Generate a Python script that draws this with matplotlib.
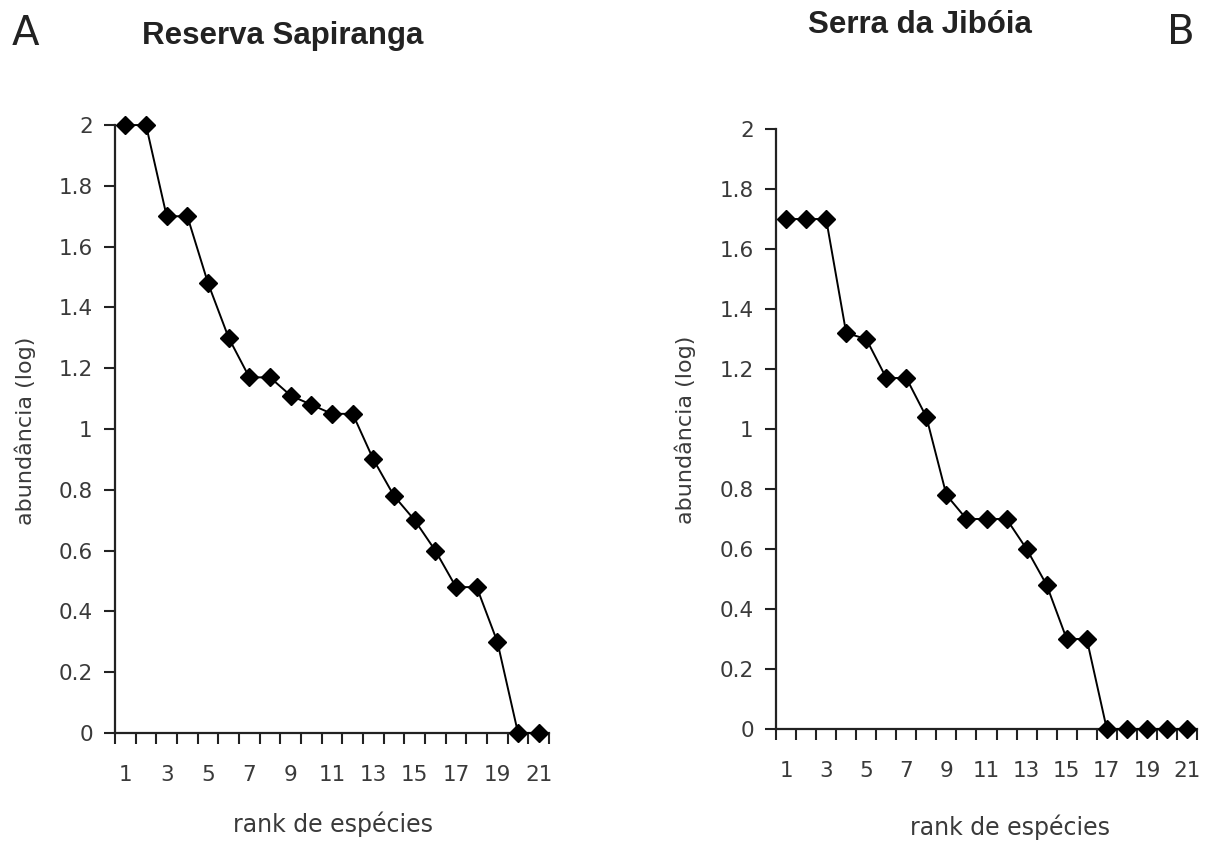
"""Rank-abundance curves for two sites (Reserva Sapiranga, Serra da Jibóia)."""

import matplotlib

matplotlib.use("Agg")
import matplotlib.pyplot as plt
from matplotlib.ticker import FixedLocator

W, H = 1208, 841

rank = list(range(1, 22))
sapiranga = [2.0, 2.0, 1.7, 1.7, 1.48, 1.3, 1.17, 1.17, 1.11, 1.08, 1.05,
             1.05, 0.9, 0.78, 0.7, 0.6, 0.48, 0.48, 0.3, 0.0, 0.0]
jiboia = [1.7, 1.7, 1.7, 1.32, 1.3, 1.17, 1.17, 1.04, 0.78, 0.7, 0.7,
          0.7, 0.6, 0.48, 0.3, 0.3, 0.0, 0.0, 0.0, 0.0, 0.0]
x_ticks = [1, 3, 5, 7, 9, 11, 13, 15, 17, 19, 21]
y_ticks = [0, 0.2, 0.4, 0.6, 0.8, 1.0, 1.2, 1.4, 1.6, 1.8, 2.0]
y_tick_labels = ["0", "0.2", "0.4", "0.6", "0.8", "1", "1.2", "1.4", "1.6", "1.8", "2"]

TEXT = "#3a3a3a"
TITLE_FONT = ["Liberation Sans", "DejaVu Sans"]


def _px(x, y):
    return x / W, 1 - y / H


def _panel(fig, rect, values):
    ax = fig.add_axes(rect)
    ax.plot(rank, values, color="black", linewidth=1.4, marker="D",
            markersize=9, markerfacecolor="black", markeredgecolor="black",
            clip_on=False, zorder=3)
    ax.set_xlim(0.5, 21.5)
    ax.set_ylim(0, 2)
    ax.xaxis.set_major_locator(FixedLocator(x_ticks))
    ax.set_xticklabels([str(t) for t in x_ticks])
    # category-axis style: tick marks sit between the ranks
    ax.xaxis.set_minor_locator(FixedLocator([r - 0.5 for r in rank] + [21.5]))
    ax.yaxis.set_major_locator(FixedLocator(y_ticks))
    ax.set_yticklabels(y_tick_labels)
    ax.tick_params(axis="x", which="major", length=0, pad=23,
                   labelsize=15.5, labelcolor=TEXT)
    ax.tick_params(axis="x", which="minor", length=8, width=1.5,
                   direction="out", color="#222222")
    ax.tick_params(axis="y", length=8, width=1.5, direction="out", pad=8,
                   labelsize=15.5, labelcolor=TEXT, color="#222222")
    for side in ("top", "right"):
        ax.spines[side].set_visible(False)
    for side in ("left", "bottom"):
        ax.spines[side].set_linewidth(1.6)
        ax.spines[side].set_color("#222222")
    return ax


fig = plt.figure(figsize=(W / 100, H / 100), dpi=100)

ax_a = _panel(fig, [0.0952, 0.1284, 0.3593, 0.7229], sapiranga)
ax_b = _panel(fig, [0.6424, 0.1332, 0.3485, 0.7134], jiboia)

fig.text(*_px(25, 34), "A", fontsize=29, ha="center", va="center", color="#222222")
fig.text(*_px(1181, 33), "B", fontsize=29, ha="center", va="center", color="#222222")
fig.text(*_px(283, 36), "Reserva Sapiranga", fontsize=22.5, fontweight="bold",
         family=TITLE_FONT, ha="center", va="center", color="#222222")
fig.text(*_px(920, 25), "Serra da Jibóia", fontsize=22.5, fontweight="bold",
         family=TITLE_FONT, ha="center", va="center", color="#222222")

fig.text(*_px(25, 431), "abundância (log)", fontsize=16, rotation=90,
         ha="center", va="center", color=TEXT)
fig.text(*_px(685, 430), "abundância (log)", fontsize=16, rotation=90,
         ha="center", va="center", color=TEXT)
fig.text(*_px(333, 824), "rank de espécies", fontsize=17,
         ha="center", va="center", color=TEXT)
fig.text(*_px(1010, 827), "rank de espécies", fontsize=17,
         ha="center", va="center", color=TEXT)

fig.savefig("out.png", dpi=100)
